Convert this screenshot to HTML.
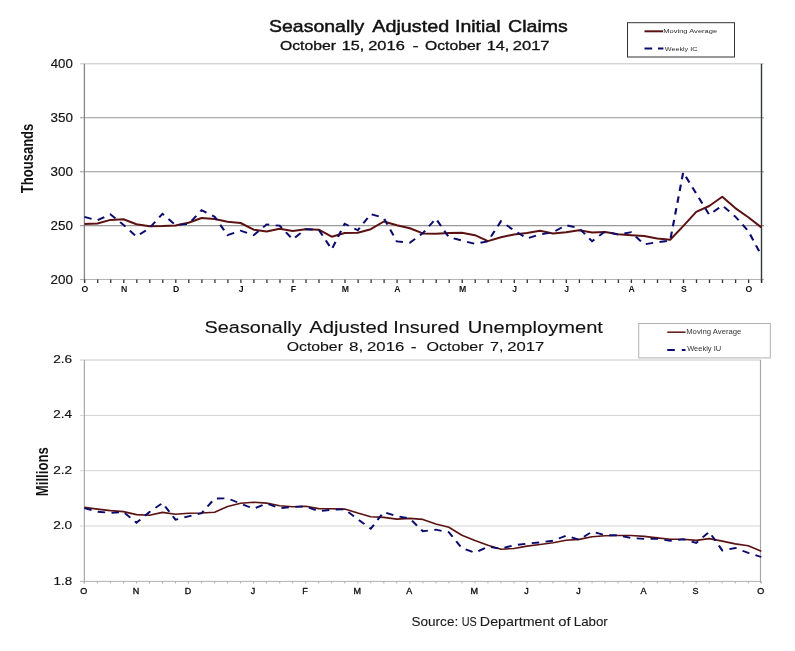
<!DOCTYPE html><html><head><meta charset="utf-8"><title>Seasonally Adjusted Initial Claims and Insured Unemployment</title>
<style>html,body{margin:0;padding:0;background:#fff;width:795px;height:651px;overflow:hidden}svg{display:block}text{font-family:'Liberation Sans', Arial, sans-serif}</style></head><body>
<svg width="795" height="651" viewBox="0 0 795 651">
<rect width="795" height="651" fill="#fff"/>
<g>
<text x="268.99" y="31.70" font-size="16.2" font-weight="normal" fill="#111" stroke="#111" stroke-width="0.45" textLength="95.31" lengthAdjust="spacingAndGlyphs">Seasonally</text>
<text x="372.30" y="31.70" font-size="16.2" font-weight="normal" fill="#111" stroke="#111" stroke-width="0.45" textLength="76.82" lengthAdjust="spacingAndGlyphs">Adjusted</text>
<text x="455.08" y="31.70" font-size="16.2" font-weight="normal" fill="#111" stroke="#111" stroke-width="0.45" textLength="45.41" lengthAdjust="spacingAndGlyphs">Initial</text>
<text x="508.08" y="31.70" font-size="16.2" font-weight="normal" fill="#111" stroke="#111" stroke-width="0.45" textLength="59.69" lengthAdjust="spacingAndGlyphs">Claims</text>
<text x="280.03" y="49.60" font-size="12.7" font-weight="normal" fill="#111" stroke="#111" stroke-width="0.3" textLength="55.87" lengthAdjust="spacingAndGlyphs">October</text>
<text x="341.77" y="49.60" font-size="12.7" font-weight="normal" fill="#111" stroke="#111" stroke-width="0.3" textLength="22.48" lengthAdjust="spacingAndGlyphs">15,</text>
<text x="368.22" y="49.60" font-size="12.7" font-weight="normal" fill="#111" stroke="#111" stroke-width="0.3" textLength="36.57" lengthAdjust="spacingAndGlyphs">2016</text>
<text x="412.47" y="49.60" font-size="12.7" font-weight="normal" fill="#111" stroke="#111" stroke-width="0.3" textLength="6.11" lengthAdjust="spacingAndGlyphs">-</text>
<text x="425.09" y="49.60" font-size="12.7" font-weight="normal" fill="#111" stroke="#111" stroke-width="0.3" textLength="55.82" lengthAdjust="spacingAndGlyphs">October</text>
<text x="486.77" y="49.60" font-size="12.7" font-weight="normal" fill="#111" stroke="#111" stroke-width="0.3" textLength="22.48" lengthAdjust="spacingAndGlyphs">14,</text>
<text x="512.71" y="49.60" font-size="12.7" font-weight="normal" fill="#111" stroke="#111" stroke-width="0.3" textLength="36.87" lengthAdjust="spacingAndGlyphs">2017</text>
</g>
<line x1="80" y1="63.8" x2="764" y2="63.8" stroke="#c4c4c4" stroke-width="1"/>
<line x1="80" y1="117.7" x2="764" y2="117.7" stroke="#999" stroke-width="1.1"/>
<line x1="80" y1="171.7" x2="764" y2="171.7" stroke="#999" stroke-width="1.1"/>
<line x1="80" y1="225.6" x2="764" y2="225.6" stroke="#999" stroke-width="1.1"/>
<line x1="80" y1="279.5" x2="764" y2="279.5" stroke="#b4b4b4" stroke-width="1"/>
<line x1="84.4" y1="63.8" x2="84.4" y2="282.5" stroke="#858585" stroke-width="1.3"/>
<line x1="761.5" y1="63.8" x2="761.5" y2="282.5" stroke="#333a33" stroke-width="1.4"/>
<path d="M84.7,279.5v3.6M97.7,279.5v3.6M110.7,279.5v3.6M123.8,279.5v3.6M136.8,279.5v3.6M149.8,279.5v3.6M162.8,279.5v3.6M175.8,279.5v3.6M188.8,279.5v3.6M201.9,279.5v3.6M214.9,279.5v3.6M227.9,279.5v3.6M240.9,279.5v3.6M253.9,279.5v3.6M266.9,279.5v3.6M280.0,279.5v3.6M293.0,279.5v3.6M306.0,279.5v3.6M319.0,279.5v3.6M332.0,279.5v3.6M345.0,279.5v3.6M358.1,279.5v3.6M371.1,279.5v3.6M384.1,279.5v3.6M397.1,279.5v3.6M410.1,279.5v3.6M423.2,279.5v3.6M436.2,279.5v3.6M449.2,279.5v3.6M462.2,279.5v3.6M475.2,279.5v3.6M488.2,279.5v3.6M501.3,279.5v3.6M514.3,279.5v3.6M527.3,279.5v3.6M540.3,279.5v3.6M553.3,279.5v3.6M566.3,279.5v3.6M579.4,279.5v3.6M592.4,279.5v3.6M605.4,279.5v3.6M618.4,279.5v3.6M631.4,279.5v3.6M644.4,279.5v3.6M657.5,279.5v3.6M670.5,279.5v3.6M683.5,279.5v3.6M696.5,279.5v3.6M709.5,279.5v3.6M722.5,279.5v3.6M735.6,279.5v3.6M748.6,279.5v3.6M761.6,279.5v3.6" stroke="#333" stroke-width="1.3"/>
<text x="50.74" y="68.00" font-size="12.0" font-weight="normal" fill="#111" stroke="#111" stroke-width="0.15" textLength="22.12" lengthAdjust="spacingAndGlyphs">400</text>
<text x="50.48" y="121.92" font-size="12.0" font-weight="normal" fill="#111" stroke="#111" stroke-width="0.15" textLength="22.39" lengthAdjust="spacingAndGlyphs">350</text>
<text x="50.48" y="175.85" font-size="12.0" font-weight="normal" fill="#111" stroke="#111" stroke-width="0.15" textLength="22.39" lengthAdjust="spacingAndGlyphs">300</text>
<text x="50.48" y="229.77" font-size="12.0" font-weight="normal" fill="#111" stroke="#111" stroke-width="0.15" textLength="22.39" lengthAdjust="spacingAndGlyphs">250</text>
<text x="50.48" y="283.70" font-size="12.0" font-weight="normal" fill="#111" stroke="#111" stroke-width="0.15" textLength="22.39" lengthAdjust="spacingAndGlyphs">200</text>
<text x="85.0" y="291.8" font-size="8.7" font-weight="bold" text-anchor="middle" fill="#111">O</text>
<text x="124.1" y="291.8" font-size="8.7" font-weight="bold" text-anchor="middle" fill="#111">N</text>
<text x="176.1" y="291.8" font-size="8.7" font-weight="bold" text-anchor="middle" fill="#111">D</text>
<text x="241.2" y="291.8" font-size="8.7" font-weight="bold" text-anchor="middle" fill="#111">J</text>
<text x="293.3" y="291.8" font-size="8.7" font-weight="bold" text-anchor="middle" fill="#111">F</text>
<text x="345.3" y="291.8" font-size="8.7" font-weight="bold" text-anchor="middle" fill="#111">M</text>
<text x="397.4" y="291.8" font-size="8.7" font-weight="bold" text-anchor="middle" fill="#111">A</text>
<text x="462.5" y="291.8" font-size="8.7" font-weight="bold" text-anchor="middle" fill="#111">M</text>
<text x="514.6" y="291.8" font-size="8.7" font-weight="bold" text-anchor="middle" fill="#111">J</text>
<text x="566.6" y="291.8" font-size="8.7" font-weight="bold" text-anchor="middle" fill="#111">J</text>
<text x="631.7" y="291.8" font-size="8.7" font-weight="bold" text-anchor="middle" fill="#111">A</text>
<text x="683.8" y="291.8" font-size="8.7" font-weight="bold" text-anchor="middle" fill="#111">S</text>
<text x="748.9" y="291.8" font-size="8.7" font-weight="bold" text-anchor="middle" fill="#111">O</text>
<text transform="translate(32.6,193.2) rotate(-90)" font-size="16" font-weight="bold" fill="#111" textLength="69.5" lengthAdjust="spacingAndGlyphs">Thousands</text>
<polyline points="84.40,224.0 97.42,223.5 110.43,219.9 123.45,219.2 136.47,224.2 149.49,226.3 162.50,226.1 175.52,225.5 188.54,222.7 201.56,218.0 214.57,219.0 227.59,221.8 240.61,223.0 253.62,229.7 266.64,231.4 279.66,228.7 292.68,230.9 305.69,229.3 318.71,229.7 331.73,236.7 344.75,233.0 357.76,232.7 370.78,229.2 383.80,221.5 396.82,225.2 409.83,228.2 422.85,233.4 435.87,233.7 448.88,233.1 461.90,232.7 474.92,235.2 487.94,241.1 500.95,237.3 513.97,234.4 526.99,233.1 540.01,230.7 553.02,233.5 566.04,232.2 579.06,230.2 592.08,232.5 605.09,232.0 618.11,234.2 631.13,235.2 644.14,236.0 657.16,238.5 670.18,239.8 683.20,226.1 696.21,211.9 709.23,206.0 722.25,196.8 735.27,208.1 748.28,217.3 761.30,227.4" fill="none" stroke="#5c1212" stroke-width="2" stroke-linejoin="round"/>
<g transform="scale(1.17,1)"><polyline points="72.14,216.9 83.26,220.3 94.39,214.3 105.51,224.9 116.64,236.6 127.77,228.0 138.89,213.8 150.02,225.0 161.14,224.0 172.27,210.3 183.40,216.6 194.52,235.2 205.65,230.7 216.77,235.2 227.90,224.4 239.03,225.7 250.15,239.3 261.28,229.2 272.40,229.7 283.53,249.3 294.65,223.7 305.78,230.2 316.91,214.1 328.03,218.0 339.16,241.3 350.28,242.8 361.41,233.2 372.54,218.6 383.66,237.3 394.79,240.5 405.91,243.8 417.04,241.3 428.17,221.2 439.29,230.4 450.42,238.5 461.54,234.5 472.67,232.2 483.80,225.2 494.92,228.2 506.05,241.3 517.17,231.4 528.30,234.7 539.42,232.2 550.55,244.3 561.68,242.3 572.80,240.6 583.93,172.4 595.05,193.5 606.18,214.8 617.31,205.5 628.43,216.5 639.56,231.0 650.68,255.2" fill="none" stroke="#0b0b6e" stroke-width="1.85" stroke-dasharray="6.4,5.5"/></g>
<rect x="627.5" y="22.7" width="107" height="34.3" fill="#fff" stroke="#333" stroke-width="1"/>
<line x1="644.5" y1="31.3" x2="663" y2="31.3" stroke="#5c1212" stroke-width="2"/>
<line x1="644.5" y1="48.5" x2="663.4" y2="48.5" stroke="#0b0b6e" stroke-width="2" stroke-dasharray="7.7,5.8"/>
<text x="663.19" y="32.90" font-size="6.2" font-weight="normal" fill="#2a2a2a" textLength="54.02" lengthAdjust="spacingAndGlyphs">Moving Average</text>
<text x="664.80" y="50.80" font-size="6.2" font-weight="normal" fill="#2a2a2a" textLength="32.61" lengthAdjust="spacingAndGlyphs">Weekly IC</text>
<text x="204.59" y="333.00" font-size="17.1" font-weight="normal" fill="#111" stroke="#111" stroke-width="0.12" textLength="97.06" lengthAdjust="spacingAndGlyphs">Seasonally</text>
<text x="309.20" y="333.00" font-size="17.1" font-weight="normal" fill="#111" stroke="#111" stroke-width="0.12" textLength="78.87" lengthAdjust="spacingAndGlyphs">Adjusted</text>
<text x="393.32" y="333.00" font-size="17.1" font-weight="normal" fill="#111" stroke="#111" stroke-width="0.12" textLength="66.19" lengthAdjust="spacingAndGlyphs">Insured</text>
<text x="467.78" y="333.00" font-size="17.1" font-weight="normal" fill="#111" stroke="#111" stroke-width="0.12" textLength="135.17" lengthAdjust="spacingAndGlyphs">Unemployment</text>
<text x="286.69" y="351.40" font-size="13.0" font-weight="normal" fill="#111" stroke="#111" stroke-width="0.12" textLength="56.21" lengthAdjust="spacingAndGlyphs">October</text>
<text x="349.08" y="351.40" font-size="13.0" font-weight="normal" fill="#111" stroke="#111" stroke-width="0.12" textLength="14.23" lengthAdjust="spacingAndGlyphs">8,</text>
<text x="367.06" y="351.40" font-size="13.0" font-weight="normal" fill="#111" stroke="#111" stroke-width="0.12" textLength="37.22" lengthAdjust="spacingAndGlyphs">2016</text>
<text x="410.85" y="351.40" font-size="13.0" font-weight="normal" fill="#111" stroke="#111" stroke-width="0.12" textLength="5.98" lengthAdjust="spacingAndGlyphs">-</text>
<text x="426.59" y="351.40" font-size="13.0" font-weight="normal" fill="#111" stroke="#111" stroke-width="0.12" textLength="57.01" lengthAdjust="spacingAndGlyphs">October</text>
<text x="490.07" y="351.40" font-size="13.0" font-weight="normal" fill="#111" stroke="#111" stroke-width="0.12" textLength="13.44" lengthAdjust="spacingAndGlyphs">7,</text>
<text x="507.22" y="351.40" font-size="13.0" font-weight="normal" fill="#111" stroke="#111" stroke-width="0.12" textLength="37.07" lengthAdjust="spacingAndGlyphs">2017</text>
<line x1="80" y1="360.0" x2="761" y2="360.0" stroke="#c8c8c8" stroke-width="1"/>
<line x1="80" y1="415.4" x2="761" y2="415.4" stroke="#d0d6d0" stroke-width="1"/>
<line x1="80" y1="470.7" x2="761" y2="470.7" stroke="#d0d6d0" stroke-width="1"/>
<line x1="80" y1="526.0" x2="761" y2="526.0" stroke="#d0d6d0" stroke-width="1"/>
<line x1="80" y1="581.4" x2="761" y2="581.4" stroke="#b0b0b0" stroke-width="1"/>
<line x1="84.4" y1="360.0" x2="84.4" y2="583.4" stroke="#a8a8a8" stroke-width="1.2"/>
<line x1="760.5" y1="360.0" x2="760.5" y2="582.9" stroke="#a8a8a8" stroke-width="1.2"/>
<path d="M84.4,581.4v2M97.4,581.4v2M110.4,581.4v2M123.5,581.4v2M136.5,581.4v2M149.5,581.4v2M162.5,581.4v2M175.5,581.4v2M188.5,581.4v2M201.6,581.4v2M214.6,581.4v2M227.6,581.4v2M240.6,581.4v2M253.6,581.4v2M266.6,581.4v2M279.7,581.4v2M292.7,581.4v2M305.7,581.4v2M318.7,581.4v2M331.7,581.4v2M344.7,581.4v2M357.8,581.4v2M370.8,581.4v2M383.8,581.4v2M396.8,581.4v2M409.8,581.4v2M422.9,581.4v2M435.9,581.4v2M448.9,581.4v2M461.9,581.4v2M474.9,581.4v2M487.9,581.4v2M501.0,581.4v2M514.0,581.4v2M527.0,581.4v2M540.0,581.4v2M553.0,581.4v2M566.0,581.4v2M579.1,581.4v2M592.1,581.4v2M605.1,581.4v2M618.1,581.4v2M631.1,581.4v2M644.1,581.4v2M657.2,581.4v2M670.2,581.4v2M683.2,581.4v2M696.2,581.4v2M709.2,581.4v2M722.2,581.4v2M735.3,581.4v2M748.3,581.4v2M761.3,581.4v2" stroke="#aaa" stroke-width="1"/>
<text x="53.15" y="363.10" font-size="11.6" font-weight="normal" fill="#111" stroke="#111" stroke-width="0.15" textLength="19.04" lengthAdjust="spacingAndGlyphs">2.6</text>
<text x="53.16" y="418.45" font-size="11.6" font-weight="normal" fill="#111" stroke="#111" stroke-width="0.15" textLength="18.76" lengthAdjust="spacingAndGlyphs">2.4</text>
<text x="53.15" y="473.80" font-size="11.6" font-weight="normal" fill="#111" stroke="#111" stroke-width="0.15" textLength="19.04" lengthAdjust="spacingAndGlyphs">2.2</text>
<text x="53.15" y="529.15" font-size="11.6" font-weight="normal" fill="#111" stroke="#111" stroke-width="0.15" textLength="19.02" lengthAdjust="spacingAndGlyphs">2.0</text>
<text x="53.56" y="585.00" font-size="11.6" font-weight="normal" fill="#111" stroke="#111" stroke-width="0.15" textLength="18.65" lengthAdjust="spacingAndGlyphs">1.8</text>
<text x="83.8" y="593.8" font-size="9.0" font-weight="normal" text-anchor="middle" fill="#111" stroke="#111" stroke-width="0.35">O</text>
<text x="135.9" y="593.8" font-size="9.0" font-weight="normal" text-anchor="middle" fill="#111" stroke="#111" stroke-width="0.35">N</text>
<text x="187.9" y="593.8" font-size="9.0" font-weight="normal" text-anchor="middle" fill="#111" stroke="#111" stroke-width="0.35">D</text>
<text x="253.0" y="593.8" font-size="9.0" font-weight="normal" text-anchor="middle" fill="#111" stroke="#111" stroke-width="0.35">J</text>
<text x="305.1" y="593.8" font-size="9.0" font-weight="normal" text-anchor="middle" fill="#111" stroke="#111" stroke-width="0.35">F</text>
<text x="357.2" y="593.8" font-size="9.0" font-weight="normal" text-anchor="middle" fill="#111" stroke="#111" stroke-width="0.35">M</text>
<text x="409.2" y="593.8" font-size="9.0" font-weight="normal" text-anchor="middle" fill="#111" stroke="#111" stroke-width="0.35">A</text>
<text x="474.3" y="593.8" font-size="9.0" font-weight="normal" text-anchor="middle" fill="#111" stroke="#111" stroke-width="0.35">M</text>
<text x="526.4" y="593.8" font-size="9.0" font-weight="normal" text-anchor="middle" fill="#111" stroke="#111" stroke-width="0.35">J</text>
<text x="578.5" y="593.8" font-size="9.0" font-weight="normal" text-anchor="middle" fill="#111" stroke="#111" stroke-width="0.35">J</text>
<text x="643.5" y="593.8" font-size="9.0" font-weight="normal" text-anchor="middle" fill="#111" stroke="#111" stroke-width="0.35">A</text>
<text x="695.6" y="593.8" font-size="9.0" font-weight="normal" text-anchor="middle" fill="#111" stroke="#111" stroke-width="0.35">S</text>
<text x="760.7" y="593.8" font-size="9.0" font-weight="normal" text-anchor="middle" fill="#111" stroke="#111" stroke-width="0.35">O</text>
<text transform="translate(47.8,496.2) rotate(-90)" font-size="16" font-weight="bold" fill="#111" textLength="49" lengthAdjust="spacingAndGlyphs">Millions</text>
<polyline points="84.40,507.4 97.42,509.1 110.43,510.6 123.45,511.6 136.47,514.6 149.49,515.2 162.50,512.4 175.52,514.2 188.54,513.2 201.56,513.0 214.57,512.2 227.59,506.5 240.61,503.2 253.62,502.3 266.64,503.1 279.66,505.7 292.68,506.7 305.69,506.2 318.71,508.6 331.73,508.8 344.75,509.1 357.76,513.1 370.78,516.7 383.80,517.4 396.82,519.1 409.83,518.4 422.85,519.4 435.87,524.0 448.88,527.2 461.90,535.3 474.92,540.6 487.94,545.2 500.95,549.2 513.97,548.5 526.99,546.1 540.01,544.5 553.02,542.8 566.04,540.2 579.06,539.4 592.08,536.8 605.09,535.7 618.11,535.5 631.13,535.5 644.14,536.4 657.16,537.9 670.18,539.3 683.20,539.3 696.21,540.4 709.23,538.6 722.25,541.1 735.27,543.9 748.28,545.7 761.30,551.2" fill="none" stroke="#5c1212" stroke-width="1.6" stroke-linejoin="round"/>
<g transform="scale(1.17,1)"><polyline points="72.14,508.2 83.26,511.7 94.39,512.9 105.51,512.0 116.64,522.7 127.77,512.0 138.89,503.0 150.02,519.7 161.14,516.4 172.27,513.2 183.40,498.6 194.52,498.3 205.65,503.6 216.77,508.7 227.90,503.6 239.03,508.2 250.15,507.0 261.28,506.4 272.40,511.3 283.53,509.7 294.65,509.3 305.78,519.2 316.91,528.7 328.03,512.1 339.16,516.1 350.28,518.6 361.41,531.2 372.54,529.7 383.66,532.2 394.79,548.2 405.91,552.7 417.04,546.7 428.17,548.7 439.29,545.2 450.42,543.6 461.54,542.4 472.67,540.7 483.80,535.7 494.92,539.7 506.05,531.6 517.17,535.2 528.30,535.2 539.42,538.0 550.55,538.9 561.68,538.9 572.80,540.7 583.93,539.3 595.05,542.9 606.18,531.9 617.31,550.4 628.43,548.0 639.56,552.9 650.68,557.0" fill="none" stroke="#0b0b6e" stroke-width="1.85" stroke-dasharray="6.4,5.5"/></g>
<rect x="638.7" y="323.5" width="131.6" height="34.4" fill="#fff" stroke="#b0b0b0" stroke-width="1"/>
<line x1="667.3" y1="332.2" x2="685.5" y2="332.2" stroke="#5c1212" stroke-width="1.5"/>
<line x1="667.3" y1="350.1" x2="685.5" y2="350.1" stroke="#0b0b6e" stroke-width="2" stroke-dasharray="7.5,7"/>
<text x="686.19" y="334.40" font-size="6.3" font-weight="normal" fill="#333" textLength="55.22" lengthAdjust="spacingAndGlyphs">Moving Average</text>
<text x="687.15" y="351.20" font-size="6.3" font-weight="normal" fill="#333" textLength="34.01" lengthAdjust="spacingAndGlyphs">Weekly IU</text>
<text x="411.53" y="625.60" font-size="12.2" font-weight="normal" fill="#1a1a1a" stroke="#1a1a1a" stroke-width="0.1" textLength="46.67" lengthAdjust="spacingAndGlyphs">Source:</text>
<text x="461.64" y="625.60" font-size="12.2" font-weight="normal" fill="#1a1a1a" stroke="#1a1a1a" stroke-width="0.1" textLength="15.10" lengthAdjust="spacingAndGlyphs">US</text>
<text x="479.88" y="625.60" font-size="12.2" font-weight="normal" fill="#1a1a1a" stroke="#1a1a1a" stroke-width="0.1" textLength="74.57" lengthAdjust="spacingAndGlyphs">Department</text>
<text x="558.32" y="625.60" font-size="12.2" font-weight="normal" fill="#1a1a1a" stroke="#1a1a1a" stroke-width="0.1" textLength="12.38" lengthAdjust="spacingAndGlyphs">of</text>
<text x="573.81" y="625.60" font-size="12.2" font-weight="normal" fill="#1a1a1a" stroke="#1a1a1a" stroke-width="0.1" textLength="34.00" lengthAdjust="spacingAndGlyphs">Labor</text>
</svg></body></html>
